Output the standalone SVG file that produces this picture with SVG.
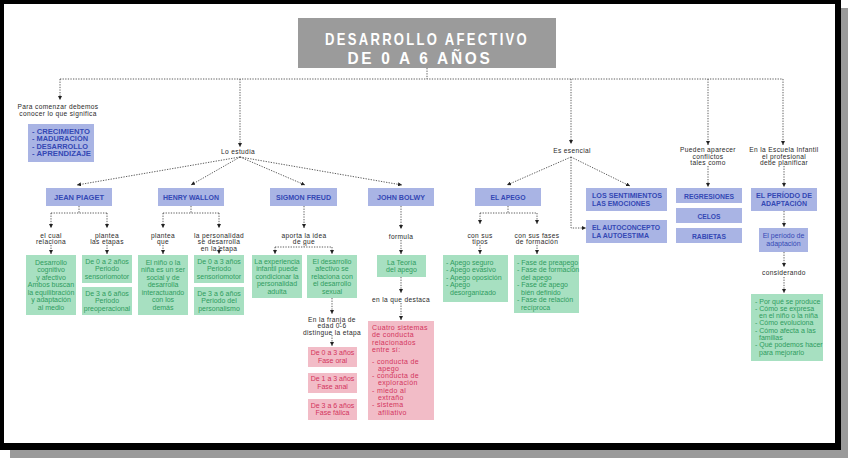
<svg xmlns="http://www.w3.org/2000/svg" width="848" height="458" viewBox="0 0 848 458">
<defs>
<marker id="ah" viewBox="0 0 6 6" refX="6" refY="3" markerWidth="4" markerHeight="4" markerUnits="userSpaceOnUse" orient="auto"><path d="M0,0 L6,3 L0,6 z" fill="#222"/></marker>
<style>
text{font-family:"Liberation Sans",Arial,sans-serif}
.lbl{font-size:6.6px;fill:#2a2a2a;letter-spacing:0.35px;text-anchor:middle}
.bt{font-size:7.6px;font-weight:bold;fill:#3448b4}
.c{text-anchor:middle}
.bb{fill:#a9b4e4}
.gb{fill:#a7e0c1}
.pb{fill:#f2bcc7}
.gt{font-size:7px;fill:#2f9c60}
.pt{font-size:7px;fill:#d2345d}
.pt2{font-size:7px;fill:#d2345d;letter-spacing:0.35px}
.bs{font-size:7px;fill:#3448b4}
.conn path{fill:none;stroke:#333;stroke-width:0.8;stroke-dasharray:1.3 1.3}
.ar{marker-end:url(#ah)}
</style>
</defs>
<rect x="10" y="8" width="838" height="450" fill="#9a9a9a"/>
<rect x="0" y="0" width="841" height="450" fill="#000"/>
<rect x="4" y="4" width="831" height="439" fill="#fff"/>

<g id="title">
<rect x="298" y="18" width="258" height="50" fill="#9b9b9b"/>
<text x="427" y="44.5" text-anchor="middle" font-size="17" font-weight="bold" fill="#fff" letter-spacing="3" textLength="204" lengthAdjust="spacingAndGlyphs">DESARROLLO AFECTIVO</text>
<text x="420" y="63.5" text-anchor="middle" font-size="17" font-weight="bold" fill="#fff" letter-spacing="3" textLength="145" lengthAdjust="spacingAndGlyphs">DE 0 A 6 AÑOS</text>
</g>

<g class="conn">
<path d="M427,68 V79"/>
<path d="M60,79 H783"/>
<path class="ar" d="M60,79 V100"/>
<path class="ar" d="M240,79 V147"/>
<path class="ar" d="M571,79 V144"/>
<path class="ar" d="M708,79 V145"/>
<path class="ar" d="M783,79 V145"/>
<path class="ar" d="M240,157 L77,185"/>
<path class="ar" d="M240,157 L191,185"/>
<path class="ar" d="M240,157 L305,185"/>
<path class="ar" d="M240,157 L402,185"/>
<path d="M79,206 V213 M51,213 H107"/>
<path class="ar" d="M51,213 V228"/>
<path class="ar" d="M107,213 V228"/>
<path class="ar" d="M51,245 V254"/>
<path class="ar" d="M107,245 V254"/>
<path d="M191,206 V213 M163,213 H219"/>
<path class="ar" d="M163,213 V228"/>
<path class="ar" d="M219,213 V228"/>
<path class="ar" d="M163,245 V254"/>
<path class="ar" d="M219,246 V254"/>
<path class="ar" d="M304,206 V228"/>
<path d="M304,244 V247 M275,247 H332"/>
<path class="ar" d="M275,247 V254"/>
<path class="ar" d="M332,247 V254"/>
<path class="ar" d="M332,298 V314"/>
<path class="ar" d="M332,335 V346"/>
<path class="ar" d="M401,206 V229"/>
<path class="ar" d="M401,240 V254"/>
<path class="ar" d="M401,277 V293"/>
<path class="ar" d="M401,303 V320"/>
<path class="ar" d="M571,157 L507,185"/>
<path class="ar" d="M571,157 L630,186"/>
<path class="ar" d="M571,157 V228 H586"/>
<path d="M508,206 V213 M480,213 H537"/>
<path class="ar" d="M480,213 V224"/>
<path class="ar" d="M537,213 V224"/>
<path class="ar" d="M480,245 V254"/>
<path class="ar" d="M537,245 V254"/>
<path class="ar" d="M708,166 V187"/>
<path class="ar" d="M784,166 V187"/>
<path class="ar" d="M784,211 V227"/>
<path class="ar" d="M784,252 V267"/>
<path class="ar" d="M784,277 V293"/>
</g>

<g id="lbl-comenzar">
<text class="lbl" x="58" y="109">Para comenzar debemos</text>
<text class="lbl" x="58" y="116">conocer lo que significa</text>
</g>
<g id="conceptos">
<rect class="bb" x="28" y="124" width="66" height="38"/>
<text class="bt" x="32" y="133.5" textLength="58" lengthAdjust="spacingAndGlyphs">- CRECIMIENTO</text>
<text class="bt" x="32" y="141" textLength="56" lengthAdjust="spacingAndGlyphs">- MADURACIÓN</text>
<text class="bt" x="32" y="148.5" textLength="56" lengthAdjust="spacingAndGlyphs">- DESARROLLO</text>
<text class="bt" x="32" y="156" textLength="59" lengthAdjust="spacingAndGlyphs">- APRENDIZAJE</text>
</g>
<g id="lbl-estudia"><text class="lbl" x="238" y="153.5">Lo estudia</text></g>
<g id="lbl-esencial"><text class="lbl" x="572" y="152.5">Es esencial</text></g>
<g id="lbl-pueden">
<text class="lbl" x="708" y="152">Pueden aparecer</text>
<text class="lbl" x="708" y="158.5">conflictos</text>
<text class="lbl" x="708" y="165">tales como</text>
</g>
<g id="lbl-escuela">
<text class="lbl" x="784" y="152">En la Escuela Infantil</text>
<text class="lbl" x="784" y="158.5">el profesional</text>
<text class="lbl" x="784" y="165">debe planificar</text>
</g>

<g id="piaget">
<rect class="bb" x="46" y="188" width="66" height="18"/>
<text class="bt c" x="79" y="200" textLength="50" lengthAdjust="spacingAndGlyphs">JEAN PIAGET</text>
</g>
<g id="lbl-piaget">
<text class="lbl" x="51" y="237.5">el cual</text><text class="lbl" x="51" y="244">relaciona</text>
<text class="lbl" x="107" y="237.5">plantea</text><text class="lbl" x="107" y="244">las etapas</text>
</g>
<g id="piaget-g1">
<rect class="gb" x="26" y="255" width="50" height="60"/>
<text class="gt c" x="51" y="264.5">Desarrollo</text>
<text class="gt c" x="51" y="272">cognitivo</text>
<text class="gt c" x="51" y="279.5">y afectivo</text>
<text class="gt c" x="51" y="287">Ambos buscan</text>
<text class="gt c" x="51" y="294.5">la equilibración</text>
<text class="gt c" x="51" y="302">y adaptación</text>
<text class="gt c" x="51" y="309.5">al medio</text>
</g>
<g id="piaget-g2">
<rect class="gb" x="82" y="255" width="50" height="28"/>
<text class="gt c" x="107" y="263.5">De 0 a 2 años</text>
<text class="gt c" x="107" y="271">Periodo</text>
<text class="gt c" x="107" y="278.5">sensoriomotor</text>
</g>
<g id="piaget-g3">
<rect class="gb" x="82" y="287" width="50" height="28"/>
<text class="gt c" x="107" y="295.5">De 3 a 6 años</text>
<text class="gt c" x="107" y="303">Periodo</text>
<text class="gt c" x="107" y="310.5">preoperacional</text>
</g>

<g id="wallon">
<rect class="bb" x="158" y="188" width="66" height="18"/>
<text class="bt c" x="191" y="200" textLength="56" lengthAdjust="spacingAndGlyphs">HENRY WALLON</text>
</g>
<g id="lbl-wallon">
<text class="lbl" x="163" y="237.5">plantea</text><text class="lbl" x="163" y="244">que</text>
<text class="lbl" x="219" y="237.5">la personalidad</text><text class="lbl" x="219" y="244">se desarrolla</text><text class="lbl" x="219" y="250.5">en la etapa</text>
</g>
<g id="wallon-g1">
<rect class="gb" x="138" y="255" width="50" height="60"/>
<text class="gt c" x="163" y="264.5">El niño o la</text>
<text class="gt c" x="163" y="272">niña es un ser</text>
<text class="gt c" x="163" y="279.5">social y de</text>
<text class="gt c" x="163" y="287">desarrolla</text>
<text class="gt c" x="163" y="294.5">interactuando</text>
<text class="gt c" x="163" y="302">con los</text>
<text class="gt c" x="163" y="309.5">demás</text>
</g>
<g id="wallon-g2">
<rect class="gb" x="194" y="255" width="50" height="28"/>
<text class="gt c" x="219" y="263.5">De 0 a 3 años</text>
<text class="gt c" x="219" y="271">Periodo</text>
<text class="gt c" x="219" y="278.5">sensoriomotor</text>
</g>
<g id="wallon-g3">
<rect class="gb" x="194" y="287" width="50" height="28"/>
<text class="gt c" x="219" y="295.5">De 3 a 6 años</text>
<text class="gt c" x="219" y="303">Periodo del</text>
<text class="gt c" x="219" y="310.5">personalismo</text>
</g>

<g id="freud">
<rect class="bb" x="270" y="188" width="67" height="18"/>
<text class="bt c" x="303.5" y="200" textLength="55" lengthAdjust="spacingAndGlyphs">SIGMON FREUD</text>
</g>
<g id="lbl-freud">
<text class="lbl" x="304" y="237.5">aporta la idea</text><text class="lbl" x="304" y="244">de que</text>
</g>
<g id="freud-g1">
<rect class="gb" x="252" y="255" width="50" height="43"/>
<text class="gt c" x="277" y="263.5">La experiencia</text>
<text class="gt c" x="277" y="271">infantil puede</text>
<text class="gt c" x="277" y="278.5">condicionar la</text>
<text class="gt c" x="277" y="286">personalidad</text>
<text class="gt c" x="277" y="293.5">adulta</text>
</g>
<g id="freud-g2">
<rect class="gb" x="307" y="255" width="50" height="43"/>
<text class="gt c" x="332" y="263.5">El desarrollo</text>
<text class="gt c" x="332" y="271">afectivo se</text>
<text class="gt c" x="332" y="278.5">relaciona con</text>
<text class="gt c" x="332" y="286">el desarrollo</text>
<text class="gt c" x="332" y="293.5">sexual</text>
</g>
<g id="lbl-franja">
<text class="lbl" x="332" y="321.5">En la franja de</text>
<text class="lbl" x="332" y="328">edad 0-6</text>
<text class="lbl" x="332" y="334.5">distingue la etapa</text>
</g>
<g id="freud-p1">
<rect class="pb" x="308" y="347" width="49" height="20"/>
<text class="pt c" x="332.5" y="355">De 0 a 3 años</text>
<text class="pt c" x="332.5" y="362.5">Fase oral</text>
</g>
<g id="freud-p2">
<rect class="pb" x="308" y="373" width="49" height="20"/>
<text class="pt c" x="332.5" y="381">De 1 a 3 años</text>
<text class="pt c" x="332.5" y="388.5">Fase anal</text>
</g>
<g id="freud-p3">
<rect class="pb" x="308" y="399" width="49" height="21"/>
<text class="pt c" x="332.5" y="407.5">De 3 a 6 años</text>
<text class="pt c" x="332.5" y="415">Fase fálica</text>
</g>

<g id="bolwy">
<rect class="bb" x="368" y="188" width="66" height="18"/>
<text class="bt c" x="401" y="200" textLength="48" lengthAdjust="spacingAndGlyphs">JOHN BOLWY</text>
</g>
<g id="lbl-formula"><text class="lbl" x="401" y="238.5">formula</text></g>
<g id="bolwy-g1">
<rect class="gb" x="377" y="255" width="49" height="22"/>
<text class="gt c" x="401.5" y="264.5">La Teoría</text>
<text class="gt c" x="401.5" y="272">del apego</text>
</g>
<g id="lbl-destaca"><text class="lbl" x="401" y="301.5">en la que destaca</text></g>
<g id="bolwy-p1">
<rect class="pb" x="368" y="321" width="66" height="99"/>
<text class="pt2" x="372" y="329.5">Cuatro sistemas</text>
<text class="pt2" x="372" y="337">de conducta</text>
<text class="pt2" x="372" y="344.5">relacionados</text>
<text class="pt2" x="372" y="352">entre sí:</text>
<text class="pt2" x="372" y="363.5">- conducta de</text>
<text class="pt2" x="378" y="370.8">apego</text>
<text class="pt2" x="372" y="378.1">- conducta de</text>
<text class="pt2" x="378" y="385.4">exploración</text>
<text class="pt2" x="372" y="392.7">- miedo al</text>
<text class="pt2" x="378" y="400">extraño</text>
<text class="pt2" x="372" y="407.3">- sistema</text>
<text class="pt2" x="378" y="414.6">afiliativo</text>
</g>

<g id="apego">
<rect class="bb" x="475" y="188" width="66" height="18"/>
<text class="bt c" x="508" y="200" textLength="35" lengthAdjust="spacingAndGlyphs">EL APEGO</text>
</g>
<g id="lbl-apego">
<text class="lbl" x="480" y="237.5">con sus</text><text class="lbl" x="480" y="244">tipos</text>
<text class="lbl" x="537" y="237.5">con sus fases</text><text class="lbl" x="537" y="244">de formación</text>
</g>
<g id="apego-g1">
<rect class="gb" x="443" y="255" width="65" height="47"/>
<text class="gt" x="446" y="264.5">- Apego seguro</text>
<text class="gt" x="446" y="272">- Apego evasivo</text>
<text class="gt" x="446" y="279.5">- Apego oposición</text>
<text class="gt" x="446" y="287">- Apego</text>
<text class="gt" x="450" y="294.5">desorganizado</text>
</g>
<g id="apego-g2">
<rect class="gb" x="514" y="255" width="65" height="58"/>
<text class="gt" x="517" y="264.5">- Fase de preapego</text>
<text class="gt" x="517" y="272">- Fase de formación</text>
<text class="gt" x="521" y="279.5">del apego</text>
<text class="gt" x="517" y="287">- Fase de apego</text>
<text class="gt" x="521" y="294.5">bién definido</text>
<text class="gt" x="517" y="302">- Fase de relación</text>
<text class="gt" x="521" y="309.5">recíproca</text>
</g>

<g id="sentimientos">
<rect class="bb" x="586" y="188" width="81" height="23"/>
<text class="bt" x="592" y="197.5" textLength="70" lengthAdjust="spacingAndGlyphs">LOS SENTIMIENTOS</text>
<text class="bt" x="592" y="205.5" textLength="58" lengthAdjust="spacingAndGlyphs">LAS EMOCIONES</text>
</g>
<g id="autoconcepto">
<rect class="bb" x="586" y="220" width="81" height="23"/>
<text class="bt" x="592" y="229.5" textLength="68" lengthAdjust="spacingAndGlyphs">EL AUTOCONCEPTO</text>
<text class="bt" x="592" y="237.5" textLength="57" lengthAdjust="spacingAndGlyphs">LA AUTOESTIMA</text>
</g>

<g id="regresiones">
<rect class="bb" x="676" y="188" width="66" height="15"/>
<text class="bt c" x="709" y="198.5" textLength="50" lengthAdjust="spacingAndGlyphs">REGRESIONES</text>
</g>
<g id="celos">
<rect class="bb" x="676" y="208" width="66" height="15"/>
<text class="bt c" x="709" y="218.5" textLength="23" lengthAdjust="spacingAndGlyphs">CELOS</text>
</g>
<g id="rabietas">
<rect class="bb" x="676" y="228" width="66" height="15"/>
<text class="bt c" x="709" y="238.5" textLength="34" lengthAdjust="spacingAndGlyphs">RABIETAS</text>
</g>

<g id="periodo">
<rect class="bb" x="751" y="188" width="66" height="23"/>
<text class="bt c" x="784" y="197.5" textLength="56" lengthAdjust="spacingAndGlyphs">EL PERÍODO DE</text>
<text class="bt c" x="784" y="205.5" textLength="46" lengthAdjust="spacingAndGlyphs">ADAPTACIÓN</text>
</g>
<g id="periodo2">
<rect class="bb" x="759" y="228" width="49" height="24"/>
<text class="bs c" x="783.5" y="238">El período de</text>
<text class="bs c" x="783.5" y="245.5">adaptación</text>
</g>
<g id="lbl-considerando"><text class="lbl" x="784" y="274.5">considerando</text></g>
<g id="periodo-g">
<rect class="gb" x="751" y="294" width="72" height="67"/>
<text class="gt" x="755" y="303.5">- Por qué se produce</text>
<text class="gt" x="755" y="310.8">- Cómo se expresa</text>
<text class="gt" x="759" y="318.1">en el niño o la niña</text>
<text class="gt" x="755" y="325.4">- Cómo evoluciona</text>
<text class="gt" x="755" y="332.7">- Cómo afecta a las</text>
<text class="gt" x="759" y="340">familias</text>
<text class="gt" x="755" y="347.3">- Qué podemos hacer</text>
<text class="gt" x="759" y="354.6">para mejorarlo</text>
</g>
</svg>
